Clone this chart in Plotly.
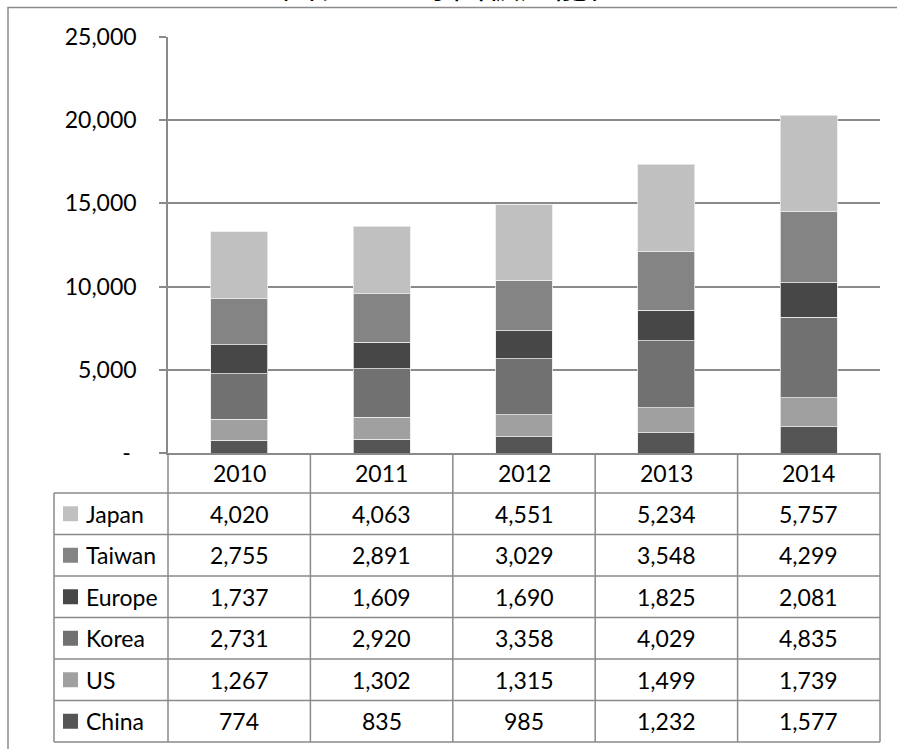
import plotly.graph_objects as go

years = ["2010", "2011", "2012", "2013", "2014"]
japan = [4020, 4063, 4551, 5234, 5757]
taiwan = [2755, 2891, 3029, 3548, 4299]
europe = [1737, 1609, 1690, 1825, 2081]
korea = [2731, 2920, 3358, 4029, 4835]
us = [1267, 1302, 1315, 1499, 1739]
china = [774, 835, 985, 1232, 1577]

series_names = ["Japan", "Taiwan", "Europe", "Korea", "US", "China"]  # table order
series_values = [japan, taiwan, europe, korea, us, china]
series_colors = ["#c0c0c0", "#848484", "#474747", "#717171", "#a0a0a0", "#555555"]

y_tickvals = [0, 5000, 10000, 15000, 20000, 25000]
y_ticktext = ["-\u00a0", "5,000", "10,000", "15,000", "20,000", "25,000"]
title_text = "图表：全球面板产能值"

FW, FH = 897, 749
L, R, T, B = 168, 880, 37, 453
W, H = R - L, B - T


def px(x):
    return (x - L) / W


def py(y):
    return (B - y) / H


FONT = "Lato"
FS = 23
GRID = "#8a8a8a"

fig = go.Figure()
# stacked bars bottom to top
for name, vals, col in reversed(list(zip(series_names, series_values, series_colors))):
    fig.add_trace(go.Bar(
        x=years, y=vals, name=name,
        marker=dict(color=col, line=dict(color="rgba(235,235,235,0.8)", width=1)),
        showlegend=False,
    ))

shapes = []
annotations = []

# outer frame
shapes.append(dict(type="rect", xref="paper", yref="paper",
                   x0=px(8), x1=px(FW + 20), y0=py(FH + 20), y1=py(7.5),
                   line=dict(color="#8c8c8c", width=1.5), layer="below"))

# table geometry
header_top = B
header_h = 40
row_h = 41.5
n_rows = len(series_names)
table_bottom = header_top + header_h + n_rows * row_h
legend_left = 54
col_w = W / len(years)

# vertical lines of year columns
for i in range(len(years) + 1):
    xv = L + i * col_w
    shapes.append(dict(type="line", xref="paper", yref="paper",
                       x0=px(xv), x1=px(xv), y0=py(header_top), y1=py(table_bottom),
                       line=dict(color=GRID, width=1.5)))
# legend column left line
shapes.append(dict(type="line", xref="paper", yref="paper",
                   x0=px(legend_left), x1=px(legend_left),
                   y0=py(header_top + header_h), y1=py(table_bottom),
                   line=dict(color=GRID, width=1.5)))
# horizontal lines
for r in range(n_rows + 1):
    yh = header_top + header_h + r * row_h
    shapes.append(dict(type="line", xref="paper", yref="paper",
                       x0=px(legend_left), x1=px(R), y0=py(yh), y1=py(yh),
                       line=dict(color=GRID, width=1.5)))

# header year labels
for i, yr in enumerate(years):
    annotations.append(dict(xref="paper", yref="paper",
                            x=px(L + (i + 0.5) * col_w), y=py(header_top + header_h / 2),
                            text=yr, showarrow=False, xanchor="center", yanchor="middle",
                            font=dict(family=FONT, size=FS, color="#000")))

# rows
for r, (name, vals, col) in enumerate(zip(series_names, series_values, series_colors)):
    yc = header_top + header_h + (r + 0.5) * row_h
    shapes.append(dict(type="rect", xref="paper", yref="paper",
                       x0=px(63), x1=px(78), y0=py(yc + 7.5), y1=py(yc - 7.5),
                       fillcolor=col, line=dict(width=0)))
    annotations.append(dict(xref="paper", yref="paper", x=px(84), y=py(yc),
                            text=name, showarrow=False, xanchor="left", yanchor="middle",
                            font=dict(family=FONT, size=FS, color="#000")))
    for i, v in enumerate(vals):
        annotations.append(dict(xref="paper", yref="paper",
                                x=px(L + (i + 0.5) * col_w), y=py(yc),
                                text=f"{v:,}", showarrow=False, xanchor="center", yanchor="middle",
                                font=dict(family=FONT, size=FS, color="#000")))

# title (cut off at the top edge, as in the reference)
annotations.append(dict(xref="paper", yref="paper", x=px(452), y=py(-17),
                        text=title_text, showarrow=False, xanchor="center", yanchor="middle",
                        font=dict(family="Noto Sans CJK SC", size=34, color="#000")))

fig.update_layout(
    width=FW, height=FH,
    margin=dict(l=L, r=FW - R, t=T, b=FH - B, pad=0),
    barmode="stack", bargap=0.6,
    plot_bgcolor="white", paper_bgcolor="white",
    font=dict(family=FONT, size=FS, color="#000"),
    shapes=shapes, annotations=annotations,
    xaxis=dict(showticklabels=False, showgrid=False, showline=True, linecolor=GRID,
               linewidth=1.5, ticks="", zeroline=False, fixedrange=True),
    yaxis=dict(range=[0, 25000], tickvals=y_tickvals, ticktext=y_ticktext,
               showgrid=True, gridcolor=GRID, gridwidth=1.5,
               showline=True, linecolor=GRID, linewidth=1.5,
               ticks="outside", ticklen=7, tickcolor=GRID, tickwidth=1.5,
               ticklabelstandoff=18, zeroline=False,
               tickfont=dict(family=FONT, size=FS, color="#000")),
)

fig.write_html("out.html", config={"displayModeBar": False},
               post_script="document.body.style.margin='0px';document.body.style.overflow='hidden';")
